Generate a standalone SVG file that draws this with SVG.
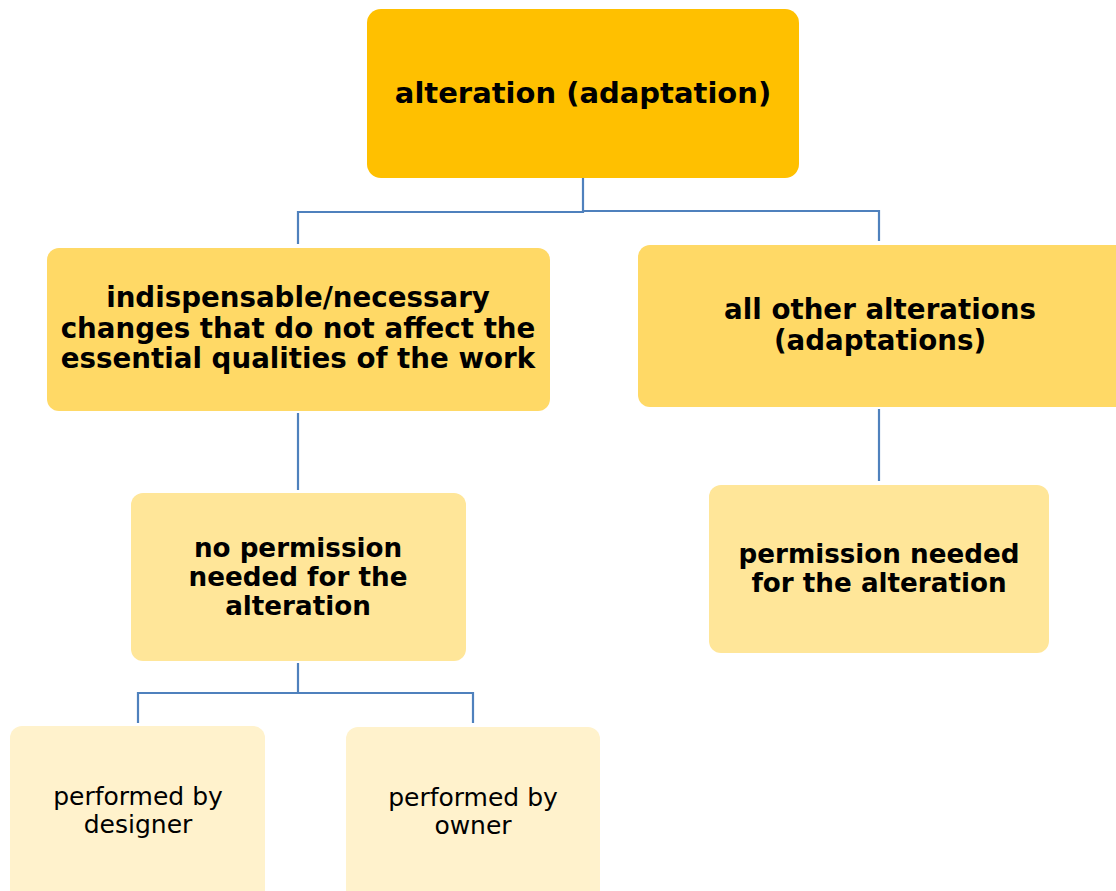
<svg xmlns="http://www.w3.org/2000/svg" width="1116" height="891" viewBox="0 0 1116 891">
<style>
.n{stroke:none}
.l1{fill:#FFC000}
.l2{fill:#FFD966}
.l3{fill:#FFE699}
.l4{fill:#FFF2CC}
.t{font-family:"DejaVu Sans",Verdana,sans-serif;fill:#000;text-anchor:middle}
.b{font-weight:bold}
.c{fill:none;stroke:#4F81BD;stroke-width:2.2}
</style>
<rect width="1116" height="891" fill="#fff"/>
<g id="connectors">
<path class="c" d="M583 178V212H298V244"/>
<path class="c" d="M583 211H879V241"/>
<path class="c" d="M298 413V490"/>
<path class="c" d="M879 409V481"/>
<path class="c" d="M298 663V693H138V723"/>
<path class="c" d="M298 693H473V723"/>
</g>
<g id="n-root">
<rect class="n l1" x="367" y="9" width="432" height="169" rx="14"/>
<text class="t b" x="583" y="103" font-size="29">alteration (adaptation)</text>
</g>
<g id="n-indispensable">
<rect class="n l2" x="47" y="248" width="503" height="163" rx="12"/>
<text class="t b" font-size="27.7"><tspan x="298" y="307">indispensable/necessary</tspan><tspan x="298" y="338">changes that do not affect the</tspan><tspan x="298" y="368">essential qualities of the work</tspan></text>
</g>
<g id="n-other">
<rect class="n l2" x="638" y="245" width="490" height="162" rx="12"/>
<text class="t b" font-size="27.7"><tspan x="880" y="319">all other alterations</tspan><tspan x="880" y="350">(adaptations)</tspan></text>
</g>
<g id="n-nopermission">
<rect class="n l3" x="131" y="493" width="335" height="168" rx="12"/>
<text class="t b" font-size="26.2"><tspan x="298" y="557">no permission</tspan><tspan x="298" y="586">needed for the</tspan><tspan x="298" y="615">alteration</tspan></text>
</g>
<g id="n-permission">
<rect class="n l3" x="709" y="485" width="340" height="168" rx="12"/>
<text class="t b" font-size="26.2"><tspan x="879" y="563">permission needed</tspan><tspan x="879" y="592">for the alteration</tspan></text>
</g>
<g id="n-designer">
<rect class="n l4" x="10" y="726" width="255" height="180" rx="12"/>
<text class="t" font-size="25"><tspan x="138" y="805">performed by</tspan><tspan x="138" y="833">designer</tspan></text>
</g>
<g id="n-owner">
<rect class="n l4" x="346" y="727" width="254" height="180" rx="12"/>
<text class="t" font-size="25"><tspan x="473" y="806">performed by</tspan><tspan x="473" y="834">owner</tspan></text>
</g>
</svg>
